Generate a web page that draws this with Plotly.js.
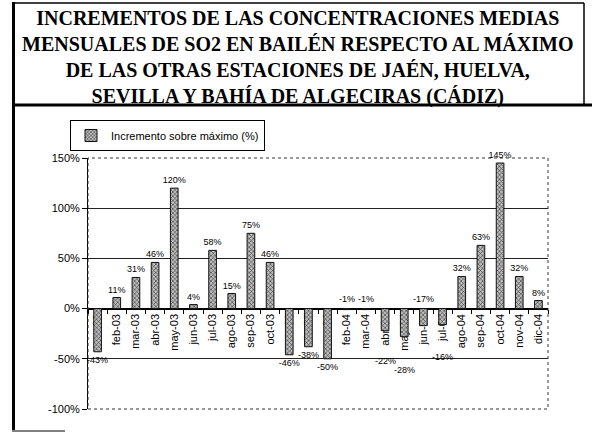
<!DOCTYPE html>
<html>
<head>
<meta charset="utf-8">
<script src="https://cdn.plot.ly/plotly-3.0.1.min.js"></script>
<style>html,body{margin:0;padding:0;background:#fff;}#chart{width:592px;height:434px;}</style>
</head>
<body>
<div id="chart"></div>
<script>
const months = ["ene-03","feb-03","mar-03","abr-03","may-03","jun-03","jul-03","ago-03","sep-03","oct-03","nov-03","dic-03",
                "ene-04","feb-04","mar-04","abr-04","may-04","jun-04","jul-04","ago-04","sep-04","oct-04","nov-04","dic-04"];
const incremento = [-43,11,31,46,120,4,58,15,75,46,-46,-38,
                    -50,-1,-1,-22,-28,-17,-16,32,63,145,32,8];
const labelsAboveZero = ["feb-04","mar-04","jun-04"];
const labelsBelowTicks = ["abr-04","may-04","jul-04"];
const belowTickShift = [-45, -54, -41];
const seriesName = "Incremento sobre máximo (%)";
const yTicks = [-100,-50,0,50,100,150];

const W = 592, H = 434;
const M = {l: 88, r: 44, t: 158, b: 25};
const PW = W - M.l - M.r, PH = H - M.t - M.b;
const px = v => (v - M.l) / PW;
const py = v => (H - M.b - v) / PH;

const frameLine = (x0, y0, x1, y1, w) => ({type: 'line', xref: 'paper', yref: 'paper',
  x0: px(x0), y0: py(y0), x1: px(x1), y1: py(y1), line: {color: '#000', width: w}});

const labelFont = {family: 'Liberation Sans', size: 9, color: '#000'};
const labelText = incremento.map(v => v + '%');
const special = m => labelsAboveZero.includes(m) || labelsBelowTicks.includes(m);

const trace = {
  type: 'bar',
  x: months,
  y: incremento,
  name: seriesName,
  showlegend: true,
  marker: {
    color: '#b0b0b0',
    line: {color: '#111', width: 1},
    pattern: {shape: 'x', size: 3, fgcolor: '#333', bgcolor: '#bcbcbc', solidity: 0.35}
  },
  text: labelText,
  texttemplate: '%{text}',
  textposition: months.map(m => special(m) ? 'none' : 'outside'),
  constraintext: 'none',
  cliponaxis: false,
  textfont: labelFont
};

const specialAnnotations = months.map((m, i) => {
  if (labelsAboveZero.includes(m)) {
    return {x: m, y: 0, xref: 'x', yref: 'y', text: labelText[i], showarrow: false,
            yanchor: 'bottom', yshift: 3, font: labelFont};
  }
  const k = labelsBelowTicks.indexOf(m);
  if (k >= 0) {
    return {x: m, y: 0, xref: 'x', yref: 'y', text: labelText[i], showarrow: false,
            yanchor: 'top', yshift: belowTickShift[k], font: labelFont};
  }
  return null;
}).filter(a => a);

const layout = {
  width: W, height: H,
  margin: M,
  paper_bgcolor: '#fff', plot_bgcolor: '#fff',
  bargap: 0.6,
  title: {
    text: 'INCREMENTOS DE LAS CONCENTRACIONES MEDIAS<br>MENSUALES DE SO2 EN BAILÉN RESPECTO AL MÁXIMO<br>DE LAS OTRAS ESTACIONES DE JAÉN, HUELVA,<br>SEVILLA Y BAHÍA DE ALGECIRAS (CÁDIZ)',
    font: {family: 'Liberation Serif', size: 20, color: '#000', weight: 'bold'},
    xref: 'container', x: 0.503, xanchor: 'center',
    yref: 'container', y: 1 - 25 / H, yanchor: 'middle'
  },
  showlegend: true,
  legend: {
    x: px(70), y: py(120), xanchor: 'left', yanchor: 'top',
    bgcolor: '#fff', bordercolor: '#000', borderwidth: 1,
    font: {family: 'Liberation Sans', size: 11, color: '#000'},
    itemwidth: 30
  },
  annotations: specialAnnotations,
  xaxis: {
    type: 'category',
    anchor: 'free', position: 0.4,
    showline: true, linecolor: '#000', linewidth: 1,
    ticks: 'outside', ticklen: 4, tickcolor: '#000', tickson: 'boundaries',
    tickangle: -90,
    tickfont: {family: 'Liberation Sans', size: 11, color: '#000'},
    showgrid: false, zeroline: false,
    layer: 'below traces',
    fixedrange: true
  },
  yaxis: {
    range: [-100, 150],
    tickvals: yTicks,
    ticktext: yTicks.map(v => v + '%'),
    showline: true, linecolor: '#000', linewidth: 1,
    ticks: 'outside', ticklen: 5, tickcolor: '#000',
    tickfont: {family: 'Liberation Sans', size: 11, color: '#000'},
    showgrid: true, gridcolor: '#222', gridwidth: 1,
    zeroline: true, zerolinecolor: '#000', zerolinewidth: 1,
    fixedrange: true
  },
  shapes: [
    {type: 'rect', xref: 'paper', yref: 'paper', x0: 0, y0: 0, x1: 1, y1: 1,
     line: {color: '#333', width: 1, dash: 'dot'}},
    frameLine(13.5, 2, 13.5, 430, 3),
    frameLine(12, 3, 584, 3, 1.5),
    frameLine(584, 3, 584, 105, 1.5),
    frameLine(12, 105, 592, 105, 3),
    frameLine(12, 431, 65, 431, 1)
  ]
};

Plotly.newPlot('chart', [trace], layout, {displayModeBar: false, staticPlot: true});
</script>
</body>
</html>
